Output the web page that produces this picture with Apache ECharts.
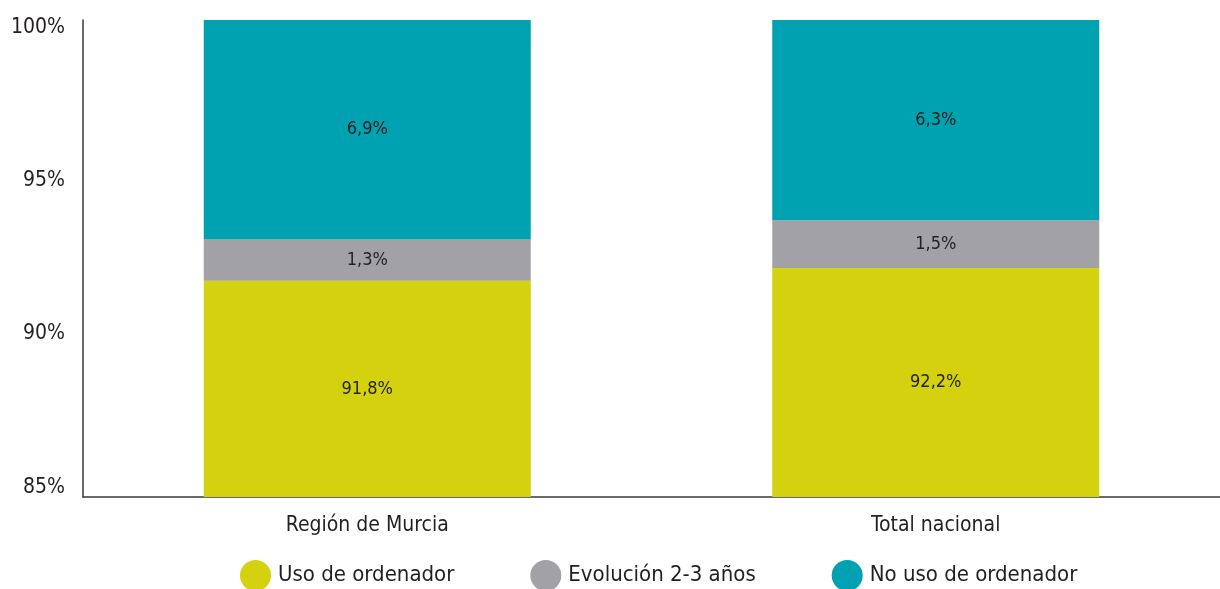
<!DOCTYPE html>
<html>
<head>
<meta charset="utf-8">
<script src="https://cdn.jsdelivr.net/npm/echarts@6/dist/echarts.min.js"></script>
<style>
  html, body { margin: 0; padding: 0; background: #fff; }
  #chart { width: 1220px; height: 589px; }
</style>
</head>
<body>
<div id="chart"></div>
<script>
const categories = ['Región de Murcia', 'Total nacional'];
const usoOrdenador = [91.8, 92.2];
const evolucion = [1.3, 1.5];
const noUso = [6.9, 6.3];
const seriesNames = ['Uso de ordenador', 'Evolución 2-3 años', 'No uso de ordenador'];
const yTicks = [85, 90, 95, 100];

const fontFamily = '"Liberation Sans Narrow", "DejaVu Sans Condensed", "Roboto", sans-serif';
const textColor = '#231f20';
const colors = ['#d4d10f', '#a2a2a6', '#00a1b0'];

const chart = echarts.init(document.getElementById('chart'));

const pct = (p) => p.value.toFixed(1).replace('.', ',') + '%';

// the original's tick labels sit a little closer together than the ticks
const labelShift = { 100: 'd8', 95: 'd2', 90: 'u4', 85: 'u9' };
const labelStyle = (shift) => {
  const n = parseInt(shift.slice(1), 10) * 2;
  return {
    color: textColor,
    fontSize: 21,
    fontFamily: fontFamily,
    padding: shift[0] === 'd' ? [n, 0, 0, 0] : [0, 0, n, 0]
  };
};

function makeSeries(name, data, color) {
  return {
    name: name,
    type: 'bar',
    stack: 'total',
    data: data,
    barWidth: 327,
    itemStyle: { color: color },
    label: {
      show: true,
      position: 'inside',
      formatter: pct,
      color: textColor,
      fontSize: 18,
      fontFamily: fontFamily
    },
    emphasis: { disabled: true }
  };
}

const option = {
  animation: false,
  color: colors,
  grid: { left: 83, right: 0, top: 20, bottom: 92 },
  legend: {
    bottom: -7,
    left: 235,
    icon: 'circle',
    itemWidth: 31,
    itemHeight: 31,
    itemGap: 76,
    textStyle: { color: textColor, fontSize: 22, fontFamily: fontFamily, padding: [0, 0, 0, 2] },
    data: seriesNames
  },
  xAxis: {
    type: 'category',
    data: categories,
    axisLine: { show: true, lineStyle: { color: '#3a3a3a', width: 1.5 } },
    axisTick: { show: false },
    axisLabel: { color: textColor, fontSize: 21, fontFamily: fontFamily, margin: 18 }
  },
  yAxis: {
    type: 'value',
    min: yTicks[0],
    max: yTicks[yTicks.length - 1],
    interval: 5,
    axisLine: { show: true, lineStyle: { color: '#3a3a3a', width: 1.5 } },
    axisTick: { show: false },
    splitLine: { show: false },
    axisLabel: {
      color: textColor,
      fontSize: 21,
      fontFamily: fontFamily,
      margin: 18,
      formatter: (v) => '{' + labelShift[v] + '|' + v + '%}',
      rich: {
        d8: labelStyle('d8'),
        d2: labelStyle('d2'),
        u4: labelStyle('u4'),
        u9: labelStyle('u9')
      }
    }
  },
  series: [
    makeSeries(seriesNames[0], usoOrdenador, colors[0]),
    makeSeries(seriesNames[1], evolucion, colors[1]),
    makeSeries(seriesNames[2], noUso, colors[2])
  ]
};

chart.setOption(option);
</script>
</body>
</html>
